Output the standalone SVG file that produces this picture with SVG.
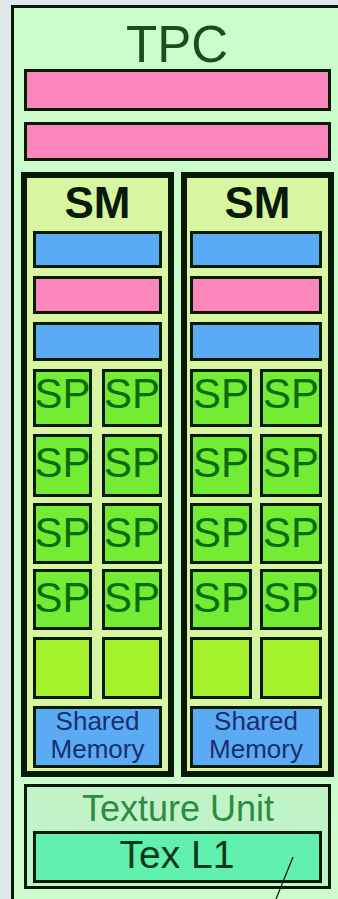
<svg xmlns="http://www.w3.org/2000/svg" width="338" height="899" viewBox="0 0 338 899">
<style>
.bd{stroke:#061a06;stroke-width:3}
.sm{fill:#d8f5a2;stroke:#061a06;stroke-width:6}
.pink{fill:#fa86bb}
.blue{fill:#5aabf4}
.sp{fill:#74ec34}
.emp{fill:#a3f22c}
.t{font-family:"Liberation Sans",Arial,sans-serif;text-anchor:middle}
.spt{font-size:42px;fill:#0b6b0b}
.smt{font-size:44px;font-weight:bold;fill:#0a1a0a}
.mem{font-size:26px;fill:#1a2d6e}
</style>
<rect x="0" y="0" width="338" height="899" fill="#dfe8e6"/>
<g id="tpc">
<rect x="12.5" y="6.5" width="400" height="1000" fill="#ccfccc" class="bd"/>
<text x="177" y="62" class="t" font-size="51" fill="#1a4d1a">TPC</text>
</g>
<g id="tpc-bar1"><rect x="25.5" y="70.5" width="304" height="39" class="pink bd"/></g>
<g id="tpc-bar2"><rect x="25.5" y="123.5" width="304" height="36" class="pink bd"/></g>

<g id="sm-left">
<rect x="24" y="175" width="147" height="599" class="sm"/>
<text x="97.5" y="218" class="t smt">SM</text>
<rect x="34.5" y="232.5" width="126" height="34" class="blue bd"/>
<rect x="34.5" y="277.5" width="126" height="35" class="pink bd"/>
<rect x="34.5" y="323.5" width="126" height="36" class="blue bd"/>
<rect x="34.5" y="370.5" width="56" height="55" class="sp bd"/>
<rect x="103.5" y="370.5" width="57" height="55" class="sp bd"/>
<rect x="34.5" y="435.5" width="56" height="60" class="sp bd"/>
<rect x="103.5" y="435.5" width="57" height="60" class="sp bd"/>
<rect x="34.5" y="504.5" width="56" height="58" class="sp bd"/>
<rect x="103.5" y="504.5" width="57" height="58" class="sp bd"/>
<rect x="34.5" y="570.5" width="56" height="58" class="sp bd"/>
<rect x="103.5" y="570.5" width="57" height="58" class="sp bd"/>
<text x="62.5" y="408" class="t spt">SP</text>
<text x="132" y="408" class="t spt">SP</text>
<text x="62.5" y="477" class="t spt">SP</text>
<text x="132" y="477" class="t spt">SP</text>
<text x="62.5" y="547" class="t spt">SP</text>
<text x="132" y="547" class="t spt">SP</text>
<text x="62.5" y="612" class="t spt">SP</text>
<text x="132" y="612" class="t spt">SP</text>
<rect x="34.5" y="638.5" width="56" height="59" class="emp bd"/>
<rect x="103.5" y="638.5" width="57" height="59" class="emp bd"/>
<rect x="34.5" y="707.5" width="126" height="59" class="blue bd"/>
<text x="97.5" y="730" class="t mem">Shared</text>
<text x="97.5" y="758" class="t mem">Memory</text>
</g>

<g id="sm-right">
<rect x="184" y="175" width="147" height="599" class="sm"/>
<text x="257.5" y="218" class="t smt">SM</text>
<rect x="191.5" y="232.5" width="129" height="34" class="blue bd"/>
<rect x="191.5" y="277.5" width="129" height="35" class="pink bd"/>
<rect x="191.5" y="323.5" width="129" height="36" class="blue bd"/>
<rect x="191.5" y="370.5" width="59" height="55" class="sp bd"/>
<rect x="261.5" y="370.5" width="59" height="55" class="sp bd"/>
<rect x="191.5" y="435.5" width="59" height="60" class="sp bd"/>
<rect x="261.5" y="435.5" width="59" height="60" class="sp bd"/>
<rect x="191.5" y="504.5" width="59" height="58" class="sp bd"/>
<rect x="261.5" y="504.5" width="59" height="58" class="sp bd"/>
<rect x="191.5" y="570.5" width="59" height="58" class="sp bd"/>
<rect x="261.5" y="570.5" width="59" height="58" class="sp bd"/>
<text x="221" y="408" class="t spt">SP</text>
<text x="291" y="408" class="t spt">SP</text>
<text x="221" y="477" class="t spt">SP</text>
<text x="291" y="477" class="t spt">SP</text>
<text x="221" y="547" class="t spt">SP</text>
<text x="291" y="547" class="t spt">SP</text>
<text x="221" y="612" class="t spt">SP</text>
<text x="291" y="612" class="t spt">SP</text>
<rect x="191.5" y="638.5" width="59" height="59" class="emp bd"/>
<rect x="261.5" y="638.5" width="59" height="59" class="emp bd"/>
<rect x="191.5" y="707.5" width="129" height="59" class="blue bd"/>
<text x="256" y="730" class="t mem">Shared</text>
<text x="256" y="758" class="t mem">Memory</text>
</g>

<g id="texture-unit">
<rect x="25.5" y="785.5" width="304" height="102" fill="#c0f4c8" class="bd"/>
<text x="178" y="821" class="t" font-size="36" fill="#2e8b40">Texture Unit</text>
</g>
<g id="tex-l1">
<rect x="34.5" y="832.5" width="286" height="49" fill="#62f0ae" class="bd"/>
<text x="177" y="868" class="t" font-size="39" fill="#0a3a1a">Tex L1</text>
</g>
<g id="connectors">
<line x1="293" y1="857" x2="276" y2="899" stroke="#111" stroke-width="1.2"/>
</g>
</svg>
